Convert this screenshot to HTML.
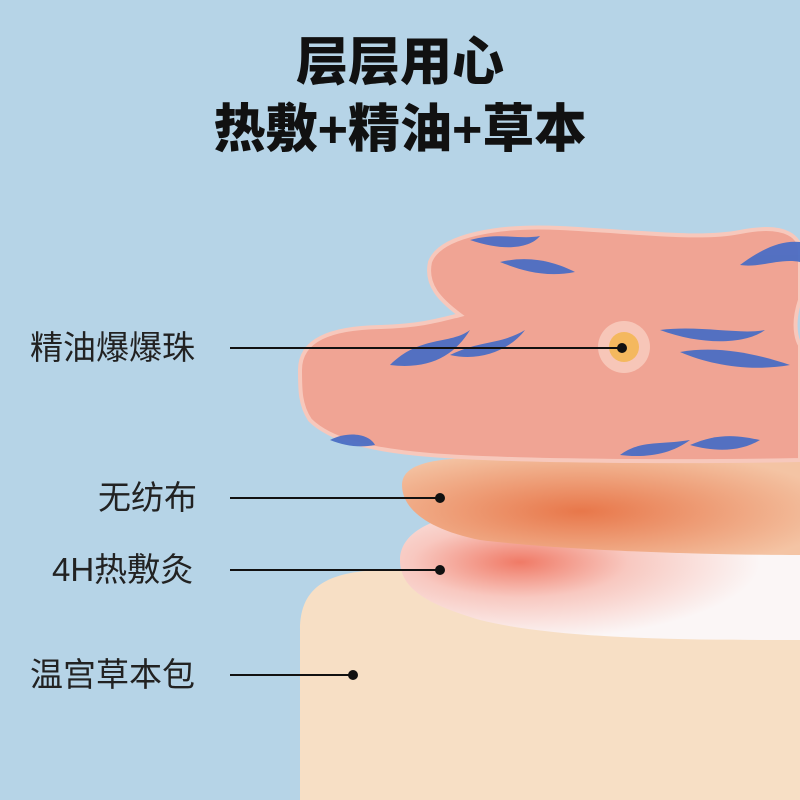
<!DOCTYPE html>
<html><head><meta charset="utf-8"><style>
html,body{margin:0;padding:0}
body{width:800px;height:800px;overflow:hidden;background:#b6d4e7;position:relative;font-family:"Liberation Sans","Noto Sans CJK SC",sans-serif}
.t{position:absolute;left:0;width:800px;text-align:center;font-weight:900;color:#111;font-size:52px;line-height:60px}
.l{position:absolute;font-size:33px;color:#222;line-height:38px}
</style></head><body>
<svg width="800" height="800" style="position:absolute;left:0;top:0">
<defs>
<radialGradient id="w" cx="0.3" cy="0.4" r="0.6"><stop offset="0" stop-color="#f07a66"/><stop offset="0.45" stop-color="#f8c8c0"/><stop offset="1" stop-color="#fbf6f6"/></radialGradient>
<radialGradient id="o" cx="0.45" cy="0.55" r="0.65"><stop offset="0" stop-color="#e8774a"/><stop offset="1" stop-color="#f4c4a4"/></radialGradient>
</defs>
<path d="M300 800 L300 630 C300 585 330 572 380 570 C430 568 440 590 480 600 C560 615 700 600 800 590 L800 800 Z" fill="#f7dfc5"/>
<path d="M400 560 C400 530 440 515 480 512 C560 505 700 520 800 540 L800 640 C700 640 560 640 480 620 C430 605 400 590 400 560 Z" fill="url(#w)"/>
<path d="M402 485 C402 465 430 458 480 458 L800 458 L800 555 C700 555 560 550 480 540 C430 530 402 510 402 485 Z" fill="url(#o)"/>
<path d="M300 370 C300 340 330 328 380 327 C420 326 440 320 460 315 C440 300 425 285 430 262 C440 235 500 225 560 228 C640 232 700 240 740 232 C790 222 800 240 800 250 L800 300 C790 330 800 345 800 345 L800 460 C700 462 520 462 430 455 C370 450 330 440 310 420 C300 405 300 390 300 370 Z" fill="#f0a494" stroke="#f7c8bc" stroke-width="4"/>
<g fill="#4b6ec4" opacity="0.95">
<path d="M470 240 C500 232 520 240 540 236 C530 248 505 252 470 240Z"/>
<path d="M500 262 C530 255 555 262 575 272 C545 278 520 270 500 262Z"/>
<path d="M390 365 C420 335 450 345 470 330 C455 355 430 370 390 365Z"/>
<path d="M450 355 C480 340 500 345 525 330 C510 350 480 362 450 355Z"/>
<path d="M660 330 C700 325 740 335 765 330 C745 345 700 345 660 330Z"/>
<path d="M680 352 C720 345 760 355 790 365 C750 372 710 365 680 352Z"/>
<path d="M740 265 C760 250 780 240 800 242 L800 262 C780 258 760 268 740 265Z"/>
<path d="M330 440 C350 430 370 435 375 445 C360 448 345 446 330 440Z"/>
<path d="M620 455 C640 440 660 445 690 440 C670 455 645 458 620 455Z"/>
<path d="M690 445 C720 432 740 436 760 440 C740 452 715 452 690 445Z"/>
</g>
<circle cx="624" cy="347" r="26" fill="#f7c6b8"/>
<circle cx="624" cy="347" r="15" fill="#f4b85e"/>
<g stroke="#111" stroke-width="2"><line x1="230" y1="348" x2="622" y2="348"/><line x1="230" y1="498" x2="440" y2="498"/><line x1="230" y1="570" x2="440" y2="570"/><line x1="230" y1="675" x2="353" y2="675"/></g>
<g fill="#111"><circle cx="622" cy="348" r="5"/><circle cx="440" cy="498" r="5"/><circle cx="440" cy="570" r="5"/><circle cx="353" cy="675" r="5"/></g>
</svg>
<div class="t" style="top:33px">层层用心</div>
<div class="t" style="top:100px">热敷+精油+草本</div>
<div class="l" style="left:30px;top:329px">精油爆爆珠</div>
<div class="l" style="left:98px;top:479px">无纺布</div>
<div class="l" style="left:52px;top:551px">4H热敷灸</div>
<div class="l" style="left:30px;top:656px">温宫草本包</div>
</body></html>
